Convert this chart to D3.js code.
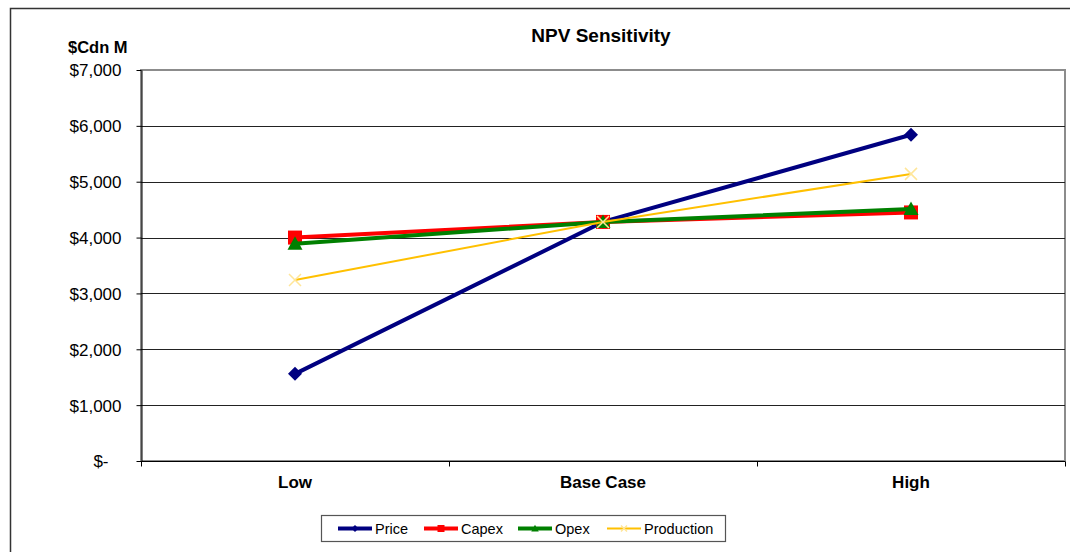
<!DOCTYPE html>
<html>
<head>
<meta charset="utf-8">
<script src="https://cdn.jsdelivr.net/npm/d3@7"></script>
<style>
  html, body { margin: 0; padding: 0; background: #fff; }
  svg { display: block; font-family: "Liberation Sans", Arial, sans-serif; }
</style>
</head>
<body>
<svg id="chart" width="1070" height="552"></svg>
<script>
// Scenario categories and NPV values ($Cdn M) for each sensitivity case
const categories = ["Low", "Base Case", "High"];
const priceValues = [1560, 4280, 5840];
const capexValues = [4000, 4280, 4450];
const opexValues = [3890, 4280, 4510];
const productionValues = [3240, 4280, 5140];
const yTicks = [0, 1000, 2000, 3000, 4000, 5000, 6000, 7000];

const series = [
  { name: "Price", values: priceValues, color: "#000080", width: 4, marker: "diamond" },
  { name: "Capex", values: capexValues, color: "#FF0000", width: 4, marker: "square" },
  { name: "Opex", values: opexValues, color: "#008000", width: 4, marker: "triangle" },
  { name: "Production", values: productionValues, color: "#FFC000", width: 2, marker: "cross" }
];

const svg = d3.select("#chart");

// Outer chart frame
svg.append("rect")
  .attr("x", 10.5).attr("y", 8.5).attr("width", 1080).attr("height", 560)
  .attr("fill", "none").attr("stroke", "#333").attr("stroke-width", 1.5);

const plot = { left: 141, top: 70, right: 1065, bottom: 461 };

const x = d3.scaleBand().domain(categories).range([plot.left, plot.right]);
const y = d3.scaleLinear().domain([0, 7000]).range([plot.bottom, plot.top]);

// Plot area border
svg.append("rect")
  .attr("x", plot.left).attr("y", plot.top)
  .attr("width", plot.right - plot.left).attr("height", plot.bottom - plot.top)
  .attr("fill", "none").attr("stroke", "#8c8c8c").attr("stroke-width", 2);

// Horizontal gridlines
svg.append("g").selectAll("line")
  .data(yTicks.filter(d => d > 0 && d < 7000))
  .join("line")
  .attr("x1", plot.left).attr("x2", plot.right)
  .attr("y1", d => Math.round(y(d)) + 0.5).attr("y2", d => Math.round(y(d)) + 0.5)
  .attr("stroke", "#222").attr("stroke-width", 1);

// Y axis
const fmt = d => d === 0 ? "$-" : "$" + d3.format(",")(d);
const yAxis = svg.append("g")
  .attr("transform", `translate(${plot.left + 0.5},0)`)
  .call(d3.axisLeft(y).tickValues(yTicks).tickFormat(fmt).tickSize(5).tickSizeOuter(0).tickPadding(15));
yAxis.attr("font-size", null).attr("font-family", null);
yAxis.select(".domain").attr("stroke", "#000");
yAxis.selectAll(".tick line").attr("stroke", "#000");
yAxis.selectAll("text")
  .attr("font-size", 17).attr("fill", "#000")
  .attr("dy", "0.35em");
yAxis.selectAll(".tick").filter(d => d === 0).select("text").attr("dx", -13);

// X axis with boundary ticks between categories
const xAxisG = svg.append("g").attr("transform", `translate(0,${plot.bottom + 0.5})`);
xAxisG.append("line")
  .attr("x1", plot.left).attr("x2", plot.right)
  .attr("stroke", "#000").attr("stroke-width", 1);
const bounds = categories.map(c => x(c)).concat([x(categories[categories.length - 1]) + x.bandwidth()]);
xAxisG.selectAll("line.tk").data(bounds).join("line")
  .attr("class", "tk")
  .attr("x1", d => Math.round(d) + 0.5).attr("x2", d => Math.round(d) + 0.5)
  .attr("y1", 0).attr("y2", 5)
  .attr("stroke", "#000");
xAxisG.selectAll("text").data(categories).join("text")
  .attr("x", d => x(d) + x.bandwidth() / 2)
  .attr("y", 26)
  .attr("text-anchor", "middle")
  .attr("font-size", 17).attr("font-weight", "bold")
  .text(d => d);

// Titles
svg.append("text")
  .attr("x", 601).attr("y", 42)
  .attr("text-anchor", "middle")
  .attr("font-size", 19).attr("font-weight", "bold")
  .text("NPV Sensitivity");
svg.append("text")
  .attr("x", 68).attr("y", 53)
  .attr("font-size", 16.5).attr("font-weight", "bold")
  .text("$Cdn M");

// Marker drawing helper
function drawMarker(g, type, cx, cy, color, scale) {
  const s = scale || 1;
  if (type === "diamond") {
    const r = 7 * s;
    g.append("path")
      .attr("d", `M${cx},${cy - r}L${cx + r},${cy}L${cx},${cy + r}L${cx - r},${cy}Z`)
      .attr("fill", color);
  } else if (type === "square") {
    const r = 7 * s;
    g.append("rect")
      .attr("x", cx - r).attr("y", cy - r).attr("width", 2 * r).attr("height", 2 * r)
      .attr("fill", color);
  } else if (type === "triangle") {
    const r = 7.5 * s;
    g.append("path")
      .attr("d", `M${cx},${cy - r}L${cx + r},${cy + r * 0.8}L${cx - r},${cy + r * 0.8}Z`)
      .attr("fill", color);
  } else if (type === "cross") {
    const r = 6 * s;
    g.append("path")
      .attr("d", `M${cx - r},${cy - r}L${cx + r},${cy + r}M${cx - r},${cy + r}L${cx + r},${cy - r}`)
      .attr("stroke", "#FFE699").attr("stroke-width", 1.5).attr("fill", "none");
  }
}

// Series lines and markers
const line = d3.line()
  .x((d, i) => x(categories[i]) + x.bandwidth() / 2)
  .y(d => y(d));

series.forEach(s => {
  const g = svg.append("g");
  g.append("path")
    .datum(s.values)
    .attr("d", line)
    .attr("fill", "none")
    .attr("stroke", s.color)
    .attr("stroke-width", s.width);
  s.values.forEach((v, i) => {
    drawMarker(g, s.marker, x(categories[i]) + x.bandwidth() / 2, y(v), s.color, 1);
  });
});

// Legend
const legend = svg.append("g");
legend.append("rect")
  .attr("x", 321.5).attr("y", 515.5).attr("width", 404).attr("height", 26)
  .attr("fill", "#fff").attr("stroke", "#555").attr("stroke-width", 1.2);
const legendX = [338, 424, 518, 607];
series.forEach((s, i) => {
  const lx = legendX[i];
  const ly = 528.5;
  legend.append("line")
    .attr("x1", lx).attr("x2", lx + 34)
    .attr("y1", ly).attr("y2", ly)
    .attr("stroke", s.color).attr("stroke-width", s.width);
  drawMarker(legend, s.marker, lx + 17, ly, s.color, 0.5);
  legend.append("text")
    .attr("x", lx + 37).attr("y", ly + 5)
    .attr("font-size", 14.5)
    .text(s.name);
});
</script>
</body>
</html>
